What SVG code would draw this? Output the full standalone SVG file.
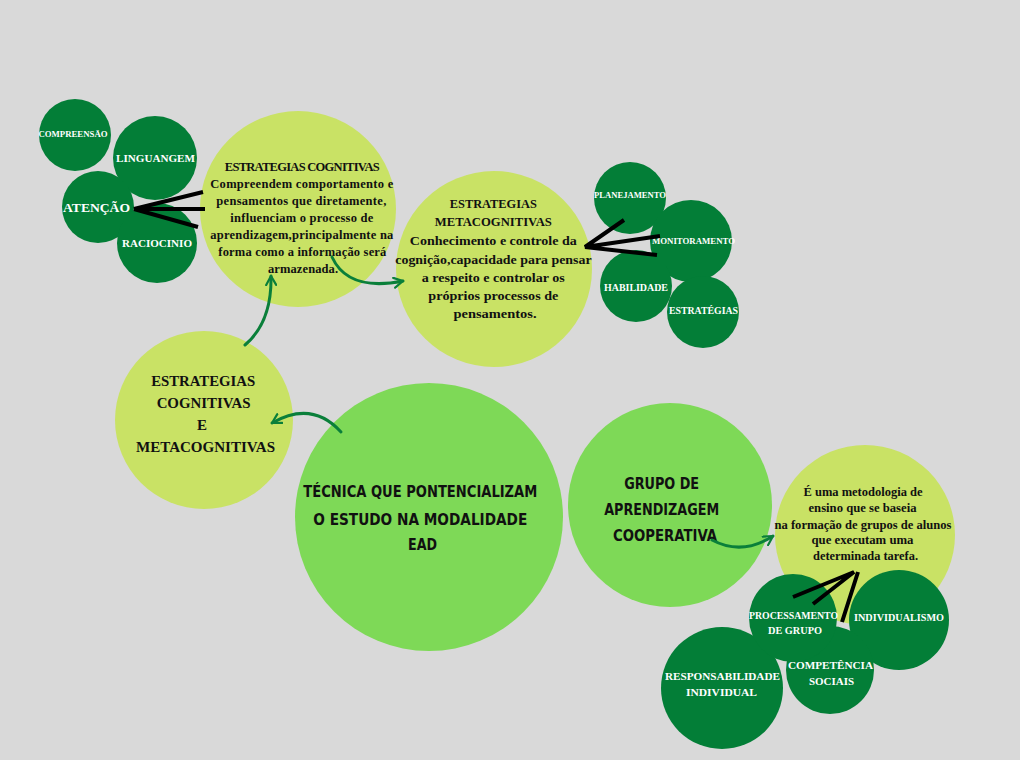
<svg xmlns="http://www.w3.org/2000/svg" width="1020" height="760" viewBox="0 0 1020 760">
<defs>
<style>
.dk{fill:#037e37}
.yl{fill:#c9e265}
.gr{fill:#7ed957}
.wt{fill:#ffffff;font-family:"Liberation Serif","DejaVu Serif",serif;font-weight:bold;text-anchor:middle}
.bt{fill:#111;font-family:"Liberation Serif","DejaVu Serif",serif;font-weight:bold;text-anchor:middle}
.hd{fill:#111;font-family:"DejaVu Sans","Liberation Sans",sans-serif;font-weight:bold;text-anchor:middle}
.bl{stroke:#000;stroke-width:4;fill:none;stroke-linecap:butt}
.ar{stroke:#0a7f3a;stroke-width:3;fill:none;stroke-linecap:round}
</style>
<marker id="ah" viewBox="0 0 12 12" refX="10" refY="6" markerWidth="4" markerHeight="4" orient="auto" markerUnits="strokeWidth">
<path d="M1,1 L10,6 L1,11" fill="none" stroke="#0a7f3a" stroke-width="2.2" stroke-linecap="round" stroke-linejoin="round"/>
</marker>
</defs>
<rect width="1020" height="760" fill="#d9d9d9"/>

<g id="n-compreensao"><circle class="dk" cx="75" cy="135" r="36"/><text class="wt" x="73" y="137" font-size="8.5" textLength="69" lengthAdjust="spacingAndGlyphs">COMPREENSÃO</text></g>
<g id="n-linguangem"><circle class="dk" cx="155" cy="158" r="42"/><text class="wt" x="155.5" y="162" font-size="11" textLength="79" lengthAdjust="spacingAndGlyphs">LINGUANGEM</text></g>
<g id="n-atencao"><circle class="dk" cx="98" cy="207" r="36"/><text class="wt" x="96.5" y="212" font-size="13.5" textLength="67" lengthAdjust="spacingAndGlyphs">ATENÇÃO</text></g>
<g id="n-raciocinio"><circle class="dk" cx="157" cy="243" r="40"/><text class="wt" x="157" y="247" font-size="11" textLength="70" lengthAdjust="spacingAndGlyphs">RACIOCINIO</text></g>

<g id="n-cog"><circle class="yl" cx="298" cy="209" r="98"/>
<text class="bt" font-size="12.5" lengthAdjust="spacingAndGlyphs">
<tspan x="303.5" y="171" textLength="155">ESTRATEGIAS COGNITIVAS</tspan>
<tspan x="303.5" y="188" textLength="183">Compreendem comportamento e</tspan>
<tspan x="303" y="205" textLength="170">pensamentos que diretamente,</tspan>
<tspan x="303.5" y="222" textLength="143">influenciam o processo de</tspan>
<tspan x="303.5" y="239" textLength="183">aprendizagem,principalmente na</tspan>
<tspan x="304" y="256" textLength="168">forma como a informação será</tspan>
<tspan x="303" y="273" textLength="70">armazenada.</tspan>
</text></g>

<g id="n-meta"><circle class="yl" cx="494" cy="269" r="98"/>
<text class="bt" font-size="13.5">
<tspan x="495" y="208" textLength="87" lengthAdjust="spacingAndGlyphs">ESTRATEGIAS</tspan>
<tspan x="495" y="226" textLength="117" lengthAdjust="spacingAndGlyphs">METACOGNITIVAS</tspan>
<tspan x="495" y="245" textLength="167" lengthAdjust="spacingAndGlyphs">Conhecimento e controle da</tspan>
<tspan x="495" y="264" textLength="196" lengthAdjust="spacingAndGlyphs">cognição,capacidade para pensar</tspan>
<tspan x="495" y="282" textLength="143" lengthAdjust="spacingAndGlyphs">a respeito e controlar os</tspan>
<tspan x="495" y="300" textLength="130" lengthAdjust="spacingAndGlyphs">próprios processos de</tspan>
<tspan x="495" y="318" textLength="83" lengthAdjust="spacingAndGlyphs">pensamentos.</tspan>
</text></g>

<g id="n-planejamento"><circle class="dk" cx="630" cy="198" r="36"/><text class="wt" x="630" y="198" font-size="9" textLength="72" lengthAdjust="spacingAndGlyphs">PLANEJAMENTO</text></g>
<g id="n-monitoramento"><circle class="dk" cx="691" cy="241" r="41"/><text class="wt" x="693.5" y="244" font-size="9" textLength="83" lengthAdjust="spacingAndGlyphs">MONITORAMENTO</text></g>
<g id="n-habilidade"><circle class="dk" cx="636" cy="286" r="36"/><text class="wt" x="636" y="291" font-size="10" textLength="64" lengthAdjust="spacingAndGlyphs">HABILIDADE</text></g>
<g id="n-estrategias"><circle class="dk" cx="703" cy="312" r="36"/><text class="wt" x="703.5" y="314" font-size="10" textLength="69" lengthAdjust="spacingAndGlyphs">ESTRATÉGIAS</text></g>

<g id="n-cogmeta"><circle class="yl" cx="204" cy="420" r="89"/>
<text class="bt" font-size="15">
<tspan x="205" y="386" textLength="104" lengthAdjust="spacingAndGlyphs">ESTRATEGIAS</tspan>
<tspan x="205.5" y="408" textLength="94" lengthAdjust="spacingAndGlyphs">COGNITIVAS</tspan>
<tspan x="204" y="430">E</tspan>
<tspan x="205.5" y="452" textLength="139" lengthAdjust="spacingAndGlyphs">METACOGNITIVAS</tspan>
</text></g>

<g id="n-tecnica"><circle class="gr" cx="429" cy="517" r="134"/>
<text class="hd" font-size="15.5">
<tspan x="423" y="497" textLength="234" lengthAdjust="spacingAndGlyphs">TÉCNICA QUE PONTENCIALIZAM</tspan>
<tspan x="423" y="525" textLength="214" lengthAdjust="spacingAndGlyphs">O ESTUDO NA MODALIDADE</tspan>
<tspan x="422.5" y="550" textLength="29" lengthAdjust="spacingAndGlyphs">EAD</tspan>
</text></g>

<g id="n-grupo"><circle class="gr" cx="670" cy="505" r="102"/>
<text class="hd" font-size="16.5">
<tspan x="664.5" y="489" textLength="75" lengthAdjust="spacingAndGlyphs">GRUPO DE</tspan>
<tspan x="664.5" y="515" textLength="115" lengthAdjust="spacingAndGlyphs">APRENDIZAGEM</tspan>
<tspan x="665" y="541" textLength="104" lengthAdjust="spacingAndGlyphs">COOPERATIVA</tspan>
</text></g>

<g id="n-metodologia"><circle class="yl" cx="865" cy="535" r="90"/>
<text class="bt" font-size="12">
<tspan x="864.5" y="496" textLength="119" lengthAdjust="spacingAndGlyphs">É uma metodologia de</tspan>
<tspan x="864" y="512" textLength="108" lengthAdjust="spacingAndGlyphs">ensino que se baseia</tspan>
<tspan x="864.5" y="529" textLength="177" lengthAdjust="spacingAndGlyphs">na formação de grupos de alunos</tspan>
<tspan x="864" y="544" textLength="102" lengthAdjust="spacingAndGlyphs">que executam uma</tspan>
<tspan x="865.5" y="560" textLength="105" lengthAdjust="spacingAndGlyphs">determinada tarefa.</tspan>
</text></g>

<g id="n-individualismo"><circle class="dk" cx="899" cy="620" r="50"/><text class="wt" x="899" y="621" font-size="10.5" textLength="90" lengthAdjust="spacingAndGlyphs">INDIVIDUALISMO</text></g>
<g id="n-responsabilidade"><circle class="dk" cx="722" cy="688" r="61"/>
<text class="wt" font-size="11"><tspan x="722.5" y="680" textLength="115" lengthAdjust="spacingAndGlyphs">RESPONSABILIDADE</tspan><tspan x="721.5" y="696" textLength="71" lengthAdjust="spacingAndGlyphs">INDIVIDUAL</tspan></text></g>
<g id="n-competencia"><circle class="dk" cx="830" cy="670" r="44"/>
<text class="wt" font-size="10.5"><tspan x="830.5" y="669" textLength="85" lengthAdjust="spacingAndGlyphs">COMPETÊNCIA</tspan><tspan x="831.5" y="685" textLength="45" lengthAdjust="spacingAndGlyphs">SOCIAIS</tspan></text></g>
<g id="n-processamento"><circle class="dk" cx="793" cy="618" r="44"/>
<text class="wt" font-size="10"><tspan x="793.5" y="619" textLength="89" lengthAdjust="spacingAndGlyphs">PROCESSAMENTO</tspan><tspan x="795" y="634" textLength="54" lengthAdjust="spacingAndGlyphs">DE GRUPO</tspan></text></g>

<g id="connectors">
<path class="bl" d="M203,192 L134,209 L205,209 M134,209 L198,227"/>
<path class="bl" d="M624,220 L585,247 L660,236 M585,247 L657,255"/>
<path class="bl" d="M793,597 L854,572 L813,604 M858,572 L842,622"/>
<path class="ar" d="M245,345 Q272,322 271,276" marker-end="url(#ah)"/>
<path class="ar" d="M341,432 Q312,400 272,423" marker-end="url(#ah)"/>
<path class="ar" d="M332,257 Q348,292 403,281" marker-end="url(#ah)"/>
<path class="ar" d="M712,540 Q742,556 773,536" marker-end="url(#ah)"/>
</g>
</svg>
